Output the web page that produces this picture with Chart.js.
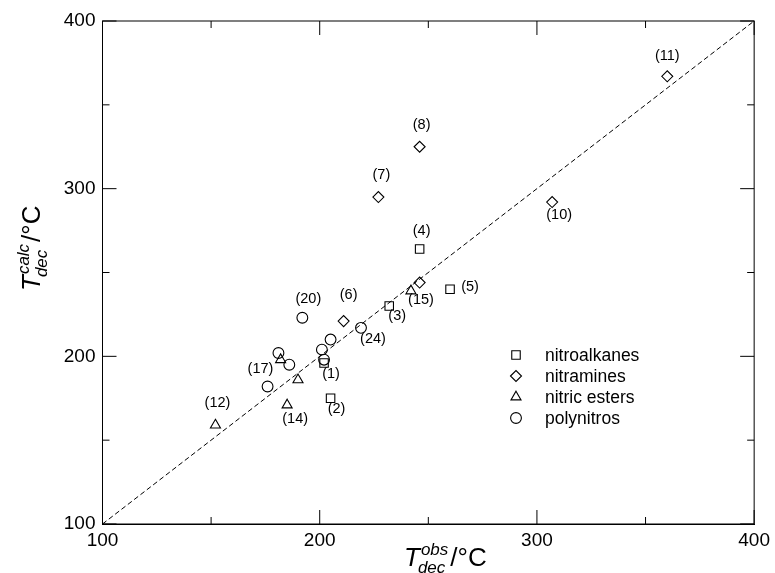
<!DOCTYPE html>
<html>
<head>
<meta charset="utf-8">
<script src="https://cdn.jsdelivr.net/npm/chart.js@4/dist/chart.umd.min.js"></script>
<style>
  html, body { margin: 0; padding: 0; background: #fff; }
  #wrap { width: 775px; height: 573px; }
</style>
</head>
<body>
<div id="wrap"><canvas id="c" width="775" height="573"></canvas></div>
<script>
// ---------------- data ----------------
const nitroalkanesObs  = [202, 205, 232, 246, 260];
const nitroalkanesCalc = [196, 175, 230, 264, 240];
const nitroalkanesIds  = ['(1)', '(2)', '(3)', '(4)', '(5)'];

const nitraminesObs  = [211, 227, 246, 307, 360, 246];
const nitraminesCalc = [221, 295, 325, 292, 367, 244];
const nitraminesIds  = ['(6)', '(7)', '(8)', '(10)', '(11)', ''];

const nitricEstersObs  = [152, 185, 242, 190, 182];
const nitricEstersCalc = [159, 171, 239, 186, 198];
const nitricEstersIds  = ['(12)', '(14)', '(15)', '', ''];

const polynitrosObs  = [181, 192, 219, 176, 186, 201, 205, 202];
const polynitrosCalc = [202, 223, 217, 182, 195, 204, 210, 198];
const polynitrosIds  = ['(17)', '(20)', '(24)', '', '', '', '', ''];

const seriesNames = ['nitroalkanes', 'nitramines', 'nitric esters', 'polynitros'];
const parityLine  = [100, 400];
const majorTicks  = [100, 200, 300, 400];
const minorTicks  = [150, 250, 350];
const axisMin = 100, axisMax = 400;

// ---------------- styling (not data) ----------------
const styles = [
  { pointStyle: 'rect',     radius: 6   },
  { pointStyle: 'rectRot',  radius: 5.5 },
  { pointStyle: 'triangle', radius: 5.8 },
  { pointStyle: 'circle',   radius: 5.4 }
];
const labelOffsets = {
  '(1)': [7, 11], '(2)': [6, 11], '(3)': [8, 10], '(4)': [2, -18], '(5)': [20, -2],
  '(6)': [5, -26], '(7)': [3, -22], '(8)': [2, -22], '(10)': [7, 13], '(11)': [0, -20],
  '(12)': [2, -22], '(14)': [8, 14], '(15)': [10, 9],
  '(17)': [-18, 16], '(20)': [6, -19], '(24)': [12, 11]
};
const FONT = "'Liberation Sans', Arial, Helvetica, sans-serif";

function pts(xs, ys) { return xs.map((x, i) => ({ x: x, y: ys[i] })); }

const groups = [
  [nitroalkanesObs, nitroalkanesCalc, nitroalkanesIds],
  [nitraminesObs, nitraminesCalc, nitraminesIds],
  [nitricEstersObs, nitricEstersCalc, nitricEstersIds],
  [polynitrosObs, polynitrosCalc, polynitrosIds]
];

const datasets = groups.map((g, k) => ({
  label: seriesNames[k],
  data: pts(g[0], g[1]),
  ids: g[2],
  pointStyle: styles[k].pointStyle,
  pointRadius: styles[k].radius,
  pointHoverRadius: styles[k].radius,
  pointBorderWidth: 1.1,
  pointBorderColor: '#000',
  pointBackgroundColor: 'rgba(0,0,0,0)',
  showLine: false,
  order: 1
}));
datasets.push({
  label: 'parity',
  data: pts(parityLine, parityLine),
  showLine: true,
  borderColor: '#000',
  borderWidth: 1,
  borderDash: [5, 3],
  pointRadius: 0,
  fill: false,
  order: 2
});

function drawTTitle(ctx, x, y, rot, sup) {
  ctx.save();
  ctx.translate(x, y);
  ctx.rotate(rot);
  ctx.fillStyle = '#000';
  ctx.textBaseline = 'alphabetic';
  ctx.textAlign = 'left';
  ctx.font = 'italic 26px ' + FONT;
  ctx.fillText('T', 0, 0);
  let cx = ctx.measureText('T').width + 1;
  ctx.font = 'italic 17px ' + FONT;
  const wSup = ctx.measureText(sup).width;
  const wSub = ctx.measureText('dec').width;
  ctx.fillText(sup, cx, -11);
  ctx.fillText('dec', cx - 3, 7);
  cx += Math.max(wSup, wSub - 3) + 2;
  ctx.font = '26px ' + FONT;
  ctx.fillText('/\u00B0C', cx, 0);
  ctx.restore();
}

const decorPlugin = {
  id: 'decor',
  afterDatasetsDraw(chart) {
    const ctx = chart.ctx;
    const a = chart.chartArea;
    const xs = chart.scales.x, ys = chart.scales.y;
    ctx.save();
    // frame
    ctx.strokeStyle = '#000';
    ctx.lineWidth = 1;
    ctx.strokeRect(a.left, a.top, a.right - a.left, a.bottom - a.top);
    // inward ticks on all four sides
    const tick = (v, len) => {
      const px = xs.getPixelForValue(v);
      const py = ys.getPixelForValue(v);
      ctx.beginPath();
      ctx.moveTo(px, a.bottom); ctx.lineTo(px, a.bottom - len);
      ctx.moveTo(px, a.top);    ctx.lineTo(px, a.top + len);
      ctx.moveTo(a.left, py);   ctx.lineTo(a.left + len, py);
      ctx.moveTo(a.right, py);  ctx.lineTo(a.right - len, py);
      ctx.stroke();
    };
    majorTicks.forEach(v => tick(v, 14));
    minorTicks.forEach(v => tick(v, 7));

    // point labels
    ctx.fillStyle = '#000';
    ctx.font = '14.5px ' + FONT;
    ctx.textAlign = 'center';
    ctx.textBaseline = 'middle';
    chart.data.datasets.forEach((ds, di) => {
      if (!ds.ids) return;
      const meta = chart.getDatasetMeta(di);
      ds.ids.forEach((id, i) => {
        if (!id) return;
        const el = meta.data[i];
        const off = labelOffsets[id] || [0, -18];
        ctx.fillText(id, el.x + off[0], el.y + off[1]);
      });
    });

    // legend
    const lx = 516, ly0 = 355, step = 21;
    ctx.font = '17.5px ' + FONT;
    ctx.textAlign = 'left';
    ctx.textBaseline = 'middle';
    seriesNames.forEach((name, k) => {
      const y = ly0 + k * step;
      ctx.strokeStyle = '#000';
      ctx.fillStyle = 'rgba(0,0,0,0)';
      ctx.lineWidth = 1.1;
      Chart.helpers.drawPoint(ctx, {
        pointStyle: styles[k].pointStyle,
        radius: styles[k].radius,
        borderWidth: 1.1,
        rotation: 0
      }, lx, y);
      ctx.fillStyle = '#000';
      ctx.fillText(name, 545, y + 1);
    });

    // axis titles
    drawTTitle(ctx, 404, 566, 0, 'obs');
    drawTTitle(ctx, 40, 291, -Math.PI / 2, 'calc');
    ctx.restore();
  }
};

Chart.defaults.font.family = FONT;
Chart.defaults.color = '#000';

new Chart(document.getElementById('c'), {
  type: 'scatter',
  data: { datasets: datasets },
  options: {
    responsive: false,
    devicePixelRatio: 1,
    animation: false,
    events: [],
    layout: { padding: { left: 0, top: 21, right: 20, bottom: 0 } },
    plugins: { legend: { display: false }, tooltip: { enabled: false } },
    scales: {
      x: {
        type: 'linear', min: axisMin, max: axisMax,
        afterBuildTicks(s) { s.ticks = majorTicks.map(v => ({ value: v })); },
        afterFit(s) { s.height = 49; },
        grid: { display: false, drawTicks: false },
        border: { display: true, color: '#000', width: 1 },
        ticks: { font: { size: 19 }, color: '#000', padding: 5, maxRotation: 0, autoSkip: false }
      },
      y: {
        type: 'linear', min: axisMin, max: axisMax,
        afterBuildTicks(s) { s.ticks = majorTicks.map(v => ({ value: v })); },
        afterFit(s) { s.width = 102.5; },
        grid: { display: false, drawTicks: false },
        border: { display: true, color: '#000', width: 1 },
        ticks: { font: { size: 19 }, color: '#000', padding: 7, autoSkip: false }
      }
    }
  },
  plugins: [decorPlugin]
});
</script>
</body>
</html>
